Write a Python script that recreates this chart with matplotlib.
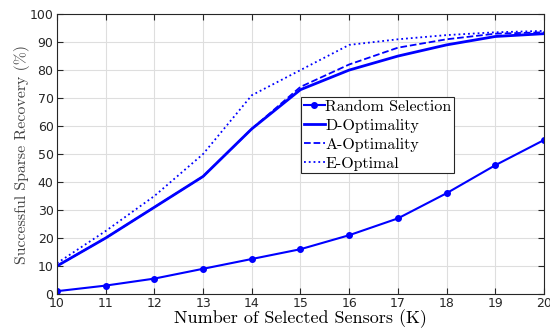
import numpy as np
from matplotlib import pyplot as plt

k = [10, 11, 12, 13, 14, 15, 16, 17, 18, 19, 20]
random_sel = [1, 3, 5.5, 9, 12.5, 16, 21, 27, 36, 46, 55]
d_opt = [10, 20, 31, 42, 59, 73, 80, 85, 89, 92, 93]
a_opt = [10, 20, 31, 42, 59, 74, 82, 88, 91, 93, 93.5]
e_opt = [11, 22.5, 35, 50, 71, 80, 89, 91, 92.5, 93.5, 94]

plt.rcParams['axes.unicode_minus'] = False
fig = plt.figure(figsize=(5.5, 3.28), dpi=100)
ax = fig.add_axes([0.1036, 0.1037, 0.8854, 0.8533])

ax.plot(k, random_sel, '-o', color='#0000ff', lw=1.5, ms=4, label='Random Selection')
ax.plot(k, d_opt, '-', color='#0000ff', lw=2, label='D-Optimality')
ax.plot(k, a_opt, '--', color='#0000ff', lw=1.3, label='A-Optimality')
ax.plot(k, e_opt, ':', color='#0000ff', lw=1.3, label='E-Optimal')

ax.set_xlim(10, 20)
ax.set_ylim(0, 100)
ax.set_xticks(range(10, 21))
ax.set_yticks(range(0, 101, 10))
ax.grid(True, color='#dedede', lw=0.8)
ax.set_axisbelow(True)
ax.tick_params(direction='in', top=True, right=True, labelsize=9, colors='#262626', length=4, pad=2.5)
for s in ax.spines.values():
    s.set_color('#262626')
    s.set_linewidth(0.8)

ax.set_xlabel('Number of Selected Sensors (K)', family='cmr10', fontsize=13, labelpad=-1)
ax.set_ylabel('Successful Sparse Recovery (%)', family='cmr10', fontsize=11.4, color='#444444', labelpad=0)

leg = ax.legend(loc='upper left', bbox_to_anchor=(0.502, 0.703), prop={'family': 'cmr10', 'size': 11.5},
                fancybox=False, edgecolor='#262626', framealpha=1, borderpad=0.15, labelspacing=0.3,
                handlelength=1.3, handletextpad=0.05, borderaxespad=0)
leg.get_frame().set_linewidth(0.8)

plt.savefig('out.png')
